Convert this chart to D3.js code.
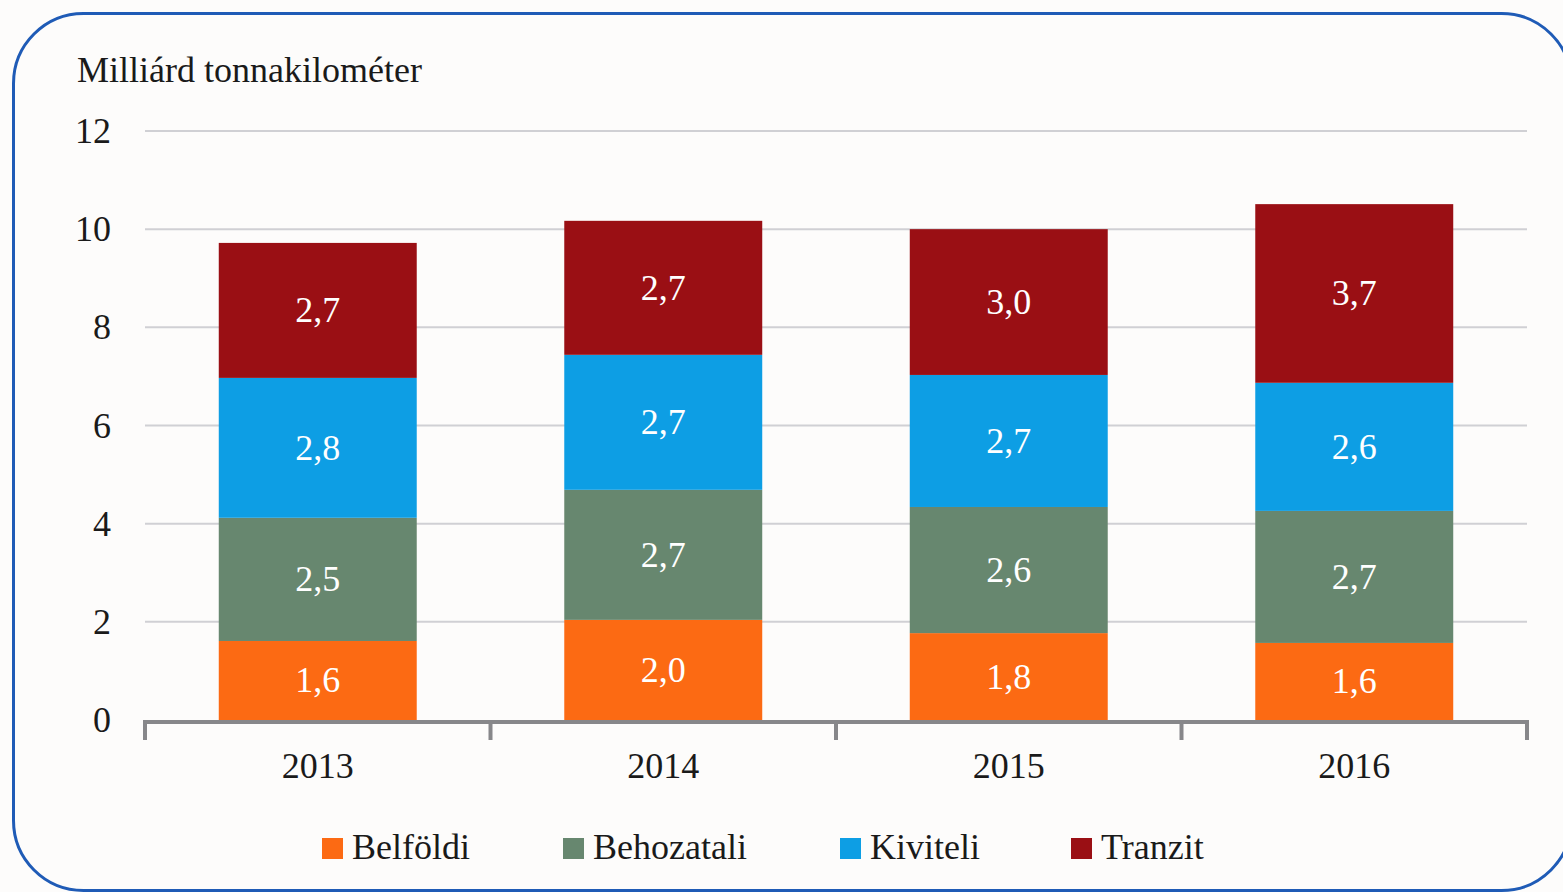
<!DOCTYPE html>
<html><head><meta charset="utf-8">
<script src="https://cdn.jsdelivr.net/npm/d3@7"></script>
<style>
html,body{margin:0;padding:0;background:#fdfcfb;}
svg{display:block;}
text{font-family:"Liberation Serif","DejaVu Serif",serif;}
</style></head>
<body>
<svg id="chart" width="1563" height="892"></svg>
<script>
const years = ["2013", "2014", "2015", "2016"];
const seriesNames = ["Belföldi", "Behozatali", "Kiviteli", "Tranzit"];
const belfoldi   = [1.61, 2.04, 1.77, 1.57];
const behozatali = [2.51, 2.65, 2.57, 2.69];
const kiviteli   = [2.85, 2.75, 2.69, 2.61];
const tranzit    = [2.75, 2.73, 2.97, 3.64];
const belfoldiLabels   = ["1,6", "2,0", "1,8", "1,6"];
const behozataliLabels = ["2,5", "2,7", "2,6", "2,7"];
const kiviteliLabels   = ["2,8", "2,7", "2,7", "2,6"];
const tranzitLabels    = ["2,7", "2,7", "3,0", "3,7"];
const yTicks = [0, 2, 4, 6, 8, 10, 12];
const colors = ["#fc6a13", "#67876f", "#0d9ee4", "#9a0f14"];
const yTitle = "Milliárd tonnakilométer";

const seriesValues = [belfoldi, behozatali, kiviteli, tranzit];
const seriesLabels = [belfoldiLabels, behozataliLabels, kiviteliLabels, tranzitLabels];
const rows = years.map((y, i) => {
  const r = {year: y};
  seriesNames.forEach((s, k) => r[s] = seriesValues[k][i]);
  return r;
});
const stacked = d3.stack().keys(seriesNames)(rows);
const FS = 36;

const svg = d3.select("#chart");
// frame
svg.append("rect").attr("x", 13.5).attr("y", 13.5).attr("width", 1558).attr("height", 877)
  .attr("rx", 70).attr("ry", 70).attr("fill", "#fdfcfb").attr("stroke", "#1f5bb6").attr("stroke-width", 3);

const x0 = 145, x1 = 1527;
const x = d3.scaleBand().domain(years).range([x0, x1]).paddingInner(0.427).paddingOuter(0.2135);
const xb = d3.scaleBand().domain(years).range([x0, x1]).padding(0);
const y = d3.scaleLinear().domain([0, 12]).range([720, 131]);

// gridlines
svg.append("g").selectAll("line").data(yTicks.filter(t => t > 0)).join("line")
  .attr("x1", x0).attr("x2", x1).attr("y1", d => y(d)).attr("y2", d => y(d))
  .attr("stroke", "#d0d0d4").attr("stroke-width", 2);

// y labels
svg.append("g").selectAll("text").data(yTicks).join("text")
  .attr("x", 111).attr("y", d => y(d) + 12).attr("text-anchor", "end")
  .attr("font-size", FS).attr("fill", "#1a1a1a").text(d => d);

svg.append("text").attr("x", 77).attr("y", 82).attr("font-size", FS).attr("fill", "#1a1a1a").text(yTitle);

// bars
stacked.forEach((layer, k) => {
  const g = svg.append("g");
  g.selectAll("rect").data(layer).join("rect")
    .attr("x", d => x(d.data.year)).attr("width", x.bandwidth())
    .attr("y", d => y(d[1])).attr("height", d => y(d[0]) - y(d[1]))
    .attr("fill", colors[k]);
  g.selectAll("text").data(layer).join("text")
    .attr("x", d => x(d.data.year) + x.bandwidth() / 2)
    .attr("y", d => (y(d[0]) + y(d[1])) / 2 + 12)
    .attr("text-anchor", "middle").attr("font-size", FS).attr("fill", "#ffffff")
    .text((d, i) => seriesLabels[k][i]);
});

// x axis
const ax = svg.append("g");
ax.append("line").attr("x1", x0 - 2).attr("x2", x1 + 2).attr("y1", 722).attr("y2", 722)
  .attr("stroke", "#87878a").attr("stroke-width", 4);
const bounds = years.map(d => xb(d)).concat([x1]);
ax.selectAll("line.t").data(bounds).join("line").attr("class", "t")
  .attr("x1", d => d).attr("x2", d => d).attr("y1", 720).attr("y2", 740)
  .attr("stroke", "#87878a").attr("stroke-width", 4);
ax.selectAll("text").data(years).join("text")
  .attr("x", d => xb(d) + xb.bandwidth() / 2).attr("y", 778)
  .attr("text-anchor", "middle").attr("font-size", FS).attr("fill", "#1a1a1a").text(d => d);

// legend
const legX = [322, 563, 840, 1071];
const leg = svg.append("g");
seriesNames.forEach((s, k) => {
  leg.append("rect").attr("x", legX[k]).attr("y", 838).attr("width", 21).attr("height", 21).attr("fill", colors[k]);
  leg.append("text").attr("x", legX[k] + 30).attr("y", 859).attr("font-size", FS).attr("fill", "#1a1a1a").text(s);
});
</script>
</body></html>
